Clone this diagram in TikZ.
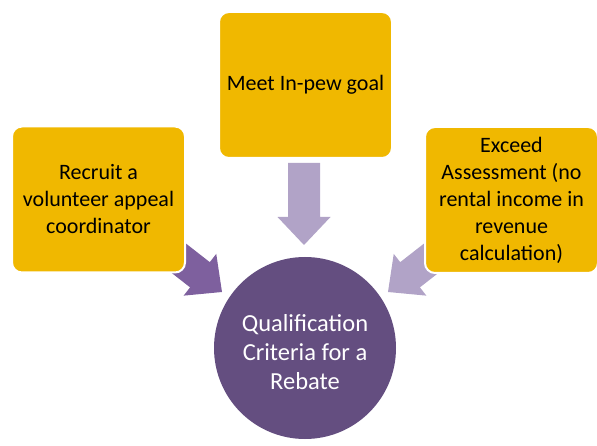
\documentclass[tikz,border=0pt]{standalone}
\usepackage{fontspec}
\setmainfont{Carlito}
\definecolor{gold}{HTML}{F0B800}
\definecolor{darkpurp}{HTML}{644E80}
\definecolor{midpurp}{HTML}{7E609E}
\definecolor{lightpurp}{HTML}{B1A3C7}
\tikzset{
  box/.style={draw=white, line width=2pt, fill=gold, rounded corners=10pt,
    minimum width=173pt, minimum height=146pt, align=center, inner sep=0pt,
    font=\fontsize{22}{27}\selectfont, text=black},
  hub/.style={circle, fill=darkpurp, draw=none, minimum size=182pt, align=center,
    text=white, font=\fontsize{24.5}{29}\selectfont}
}
\newcommand{\blockarr}[4]{% tip coordinate name, angle, shaft length, colour
  \begin{scope}[shift={(#1)}, rotate=#2]
    \fill[#4] (0,0) -- (-28,26.5) -- (-28,16) -- (-#3,16) -- (-#3,-16) -- (-28,-16) -- (-28,-26.5) -- cycle;
  \end{scope}}
\begin{document}
\begin{tikzpicture}[x=1pt,y=-1pt]
\useasboundingbox (0,0) rectangle (597,446);
\coordinate (tipT) at (304,245);
\coordinate (tipL) at (222,292);
\coordinate (tipR) at (388,292);
\blockarr{tipT}{-90}{82}{lightpurp}
\blockarr{tipL}{-38}{110}{midpurp}
\blockarr{tipR}{-142}{110}{lightpurp}
\node[box] (top) at (305.5,85) {Meet In-pew goal};
\node[box] (left) at (98.5,199.5) {Recruit a\\volunteer appeal\\coordinator};
\node[box] (right) at (511.5,200) {Exceed\\Assessment (no\\rental income in\\revenue\\calculation)};
\node[hub] (hub) at (305,348) {};
\node[align=center, text=white, font=\fontsize{24.5}{29}\selectfont] (hubtext) at (305,352) {Qualification\\Criteria for a\\Rebate};
\end{tikzpicture}
\end{document}
